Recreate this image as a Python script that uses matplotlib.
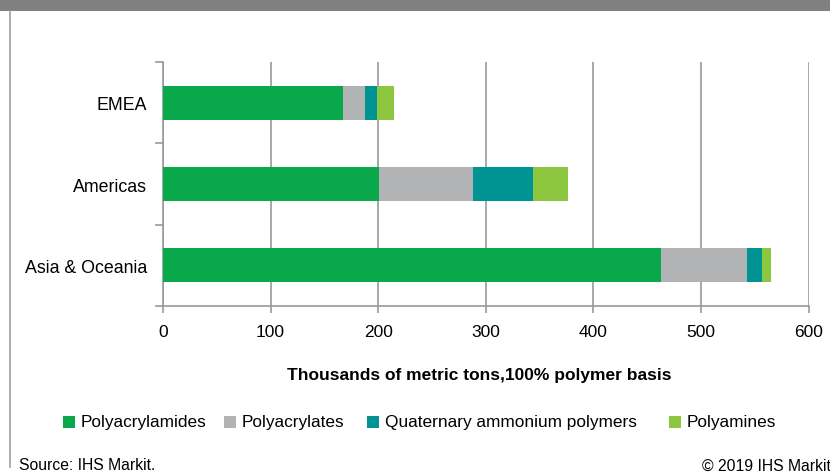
import matplotlib
matplotlib.use("Agg")
import matplotlib.pyplot as plt
from matplotlib.patches import Rectangle
from matplotlib.lines import Line2D

plt.rcParams['font.family'] = ['Liberation Sans', 'DejaVu Sans']

# Data (thousands of metric tons, 100% polymer basis)
regions = ["Asia & Oceania", "Americas", "EMEA"]
polyacrylamides = [463, 201, 167]
polyacrylates = [80, 87, 21]
quaternary = [14, 56, 11]
polyamines = [8, 32, 16]

series_names = ["Polyacrylamides", "Polyacrylates",
                "Quaternary ammonium polymers", "Polyamines"]
series_values = [polyacrylamides, polyacrylates, quaternary, polyamines]
colors = ["#09A94B", "#B2B3B5", "#009394", "#8DC63F"]

x_ticks = [0, 100, 200, 300, 400, 500, 600]

W, H = 830, 477
fig = plt.figure(figsize=(W / 100, H / 100), dpi=100)

# Header band and left frame line
fig.add_artist(Rectangle((0, 1 - 12 / H), 1, 12 / H, transform=fig.transFigure,
                         facecolor="#808080", edgecolor="none"))
fig.add_artist(Line2D([9.5 / W, 9.5 / W], [1 - 12 / H, 1 - 468 / H],
                      transform=fig.transFigure, color="#A0A0A0", lw=1.2))

ax = fig.add_axes([163 / W, 1 - 307 / H, (808.5 - 163) / W, (307 - 63) / H])

grid_col = "#9A9A9A"
ypos = list(range(len(regions)))
left = [0] * len(regions)
for name, vals, col in zip(series_names, series_values, colors):
    ax.barh(ypos, vals, left=left, height=0.42, color=col, label=name, zorder=3)
    left = [a + b for a, b in zip(left, vals)]

ax.set_xlim(0, 600)
ax.set_ylim(-0.5, len(regions) - 0.5)
ax.set_xticks(x_ticks)
ax.set_xticklabels([str(t) for t in x_ticks], fontsize=12.5)
ax.xaxis.grid(True, color=grid_col, lw=1.2, zorder=0)
ax.set_axisbelow(True)

# Category labels centred on bars, tick marks between categories
ax.set_yticks(ypos)
ax.set_yticklabels(regions, fontsize=12.8)
ax.tick_params(axis="y", which="major", length=0, pad=11.5)
ax.set_yticks([y + 0.5 for y in range(-1, len(regions))], minor=True)
ax.tick_params(axis="y", which="minor", length=6, width=1.2, color=grid_col)
ax.tick_params(axis="x", length=5, width=1.2, color=grid_col, pad=8)

for side in ["top", "right"]:
    ax.spines[side].set_visible(False)
for side in ["left", "bottom"]:
    ax.spines[side].set_color(grid_col)
    ax.spines[side].set_linewidth(1.2)

fig.text(479 / W, 1 - 376 / H, "Thousands of metric tons,100% polymer basis",
         ha="center", va="center", fontsize=12.5, fontweight="bold")

# Legend row
legend_x = [63, 224, 367, 669]
for x0, name, col in zip(legend_x, series_names, colors):
    fig.add_artist(Rectangle((x0 / W, 1 - 429 / H), 12 / W, 12 / H,
                             transform=fig.transFigure, facecolor=col,
                             edgecolor="none"))
    fig.text((x0 + 17.5) / W, 1 - 423 / H, name, ha="left", va="center",
             fontsize=12.4)

fig.text(18.5 / W, 1 - 466 / H, "Source: IHS Markit.", ha="left", va="center",
         fontsize=11.3)
fig.text(831 / W, 1 - 466 / H, "© 2019 IHS Markit", ha="right", va="center",
         fontsize=11.3)

fig.savefig("out.png", dpi=100)
